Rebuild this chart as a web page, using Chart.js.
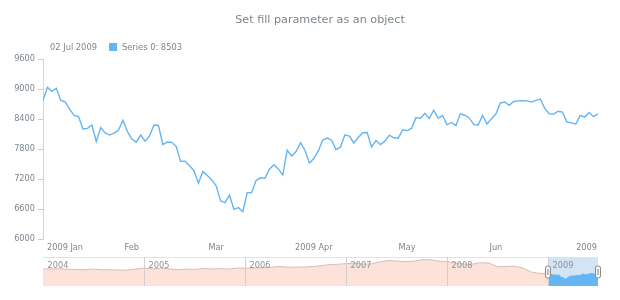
<!DOCTYPE html>
<html>
<head>
<meta charset="utf-8">
<script src="https://cdn.jsdelivr.net/npm/chart.js@4"></script>
<style>
  body { margin: 0; background: #fff; font-family: "DejaVu Sans", sans-serif; color: #7c868e; }
  #wrap { position: relative; width: 620px; height: 300px; overflow: hidden; }
  #title { position: absolute; left: 0; top: 13px; width: 640px; text-align: center; font-size: 11.2px; line-height: 14px; }
  .leg { position: absolute; top: 42px; font-size: 8.3px; line-height: 10px; white-space: nowrap; }
  #legBox { position: absolute; left: 109px; top: 43px; width: 8px; height: 8px; background: #64b5f6; }
  #main { position: absolute; left: 0; top: 0; }
  #nav { position: absolute; left: 0; top: 257px; }
</style>
</head>
<body>
<div id="wrap">
  <canvas id="main" width="620" height="256"></canvas>
  <canvas id="nav" width="620" height="30"></canvas>
  <div id="title">Set fill parameter as an object</div>
  <div class="leg" style="left:50px">02 Jul 2009</div>
  <div id="legBox"></div>
  <div class="leg" style="left:122px">Series 0: 8503</div>
</div>
<script>
// daily closes shown in the main plot, one per trading day (02 Jan .. 02 Jul 2009)
const closes = [
  8776, 9035, 8953, 9015, 8770, 8742, 8599, 8474, 8449, 8200,
  8212, 8281, 7949, 8228, 8123, 8078, 8116, 8175, 8375, 8149,
  8001, 7937, 8078, 7957, 8063, 8281, 8271, 7889, 7940, 7933,
  7850, 7553, 7556, 7466, 7366, 7115, 7351, 7271, 7182, 7063,
  6763, 6726, 6876, 6594, 6627, 6547, 6926, 6930, 7170, 7224,
  7217, 7396, 7487, 7401, 7278, 7776, 7660, 7750, 7925, 7776,
  7522, 7609, 7762, 7978, 8018, 7976, 7790, 7837, 8083, 8058,
  7920, 8030, 8125, 8131, 7842, 7970, 7887, 7957, 8076, 8025,
  8017, 8186, 8168, 8212, 8427, 8411, 8512, 8410, 8575, 8419,
  8469, 8285, 8331, 8269, 8504, 8475, 8422, 8292, 8277, 8473,
  8300, 8404, 8500, 8721, 8741, 8675, 8750, 8763, 8764, 8763,
  8739, 8771, 8799, 8612, 8505, 8497, 8556, 8540, 8339, 8323,
  8300, 8472, 8438, 8529, 8447, 8503
];
// x axis labels (index of first trading day of each month)
const monthTickIndex = [0, 20, 39, 61, 82, 102, 124];
const monthTickLabels = ["2009 Jan", "Feb", "Mar", "2009 Apr", "May", "Jun", "2009"];
const yMin = 6000, yMax = 9600, yStep = 600;

// scroller: monthly closes Dec 2003 .. Dec 2008
const navYears = [2004, 2005, 2006, 2007, 2008, 2009];
const navMonthly = [
  10454,
  10488, 10584, 10358, 10226, 10188, 10435, 10140, 10174, 10080, 10027, 10428, 10783,
  10490, 10766, 10504, 10193, 10467, 10275, 10641, 10482, 10569, 10440, 10806, 10718,
  10865, 10993, 11109, 11367, 11168, 11150, 11186, 11381, 11679, 12081, 12222, 12463,
  12622, 12269, 12354, 13063, 13628, 13409, 13212, 13358, 13896, 13930, 13372, 13265,
  12650, 12266, 12263, 12820, 12638, 11350, 11378, 11544, 10851, 9325, 8829, 8776
];

const lineColor = "#64b5f6";
const textColor = "#7c868e";
const font = "DejaVu Sans";
const fontSize = 8.2;

// ---------- main chart ----------
const xLabelsPlugin = {
  id: "xLabels",
  afterDraw(chart) {
    const ctx = chart.ctx, xs = chart.scales.x, area = chart.chartArea;
    ctx.save();
    ctx.font = fontSize + "px '" + font + "'";
    ctx.fillStyle = textColor;
    ctx.textBaseline = "middle";
    monthTickIndex.forEach((idx, k) => {
      const txt = monthTickLabels[k];
      const w = ctx.measureText(txt).width;
      let left = xs.getPixelForValue(idx) - w / 2;
      if (left < area.left + 4) left = area.left + 4;
      if (left + w > area.right - 1) left = area.right - 1 - w;
      ctx.fillText(txt, left, area.bottom + 8.5);
    });
    ctx.restore();
  }
};

new Chart(document.getElementById("main"), {
  type: "line",
  data: {
    datasets: [{
      data: closes.map((v, i) => ({ x: i, y: v })),
      borderColor: lineColor,
      borderWidth: 1.4,
      pointRadius: 0,
      tension: 0,
      fill: false
    }]
  },
  options: {
    responsive: false,
    animation: false,
    layout: { padding: { top: 59, right: 22, bottom: 17, left: 0 } },
    plugins: { legend: { display: false }, tooltip: { enabled: false } },
    scales: {
      x: { type: "linear", min: 0, max: closes.length - 1, display: false },
      y: {
        min: yMin, max: yMax,
        afterFit: (s) => { s.width = 43; },
        ticks: {
          stepSize: yStep, color: textColor, padding: 3,
          font: { family: font, size: fontSize },
          callback: (v) => String(v)
        },
        grid: { drawOnChartArea: false, tickLength: 5, color: "#c8c8c8" },
        border: { display: true, color: "#d6d6d6" }
      }
    }
  },
  plugins: [xLabelsPlugin]
});

// ---------- scroller ----------
const navSalmon = navMonthly.map((v, k) => ({ x: 2004 + k / 12, y: v }));
const nav2009 = closes.map((v, i) => ({ x: 2009 + i / 252, y: v }));
const navMax = 2009 + (closes.length - 1) / 252;

const navPlugin = {
  id: "navDecor",
  beforeDatasetsDraw(chart) {
    const ctx = chart.ctx, xs = chart.scales.x, a = chart.chartArea;
    const x0 = xs.getPixelForValue(2009), x1 = xs.getPixelForValue(navMax);
    ctx.save();
    ctx.fillStyle = "#d3e4f7";
    ctx.fillRect(x0, 0, x1 - x0, a.bottom);
    ctx.restore();
  },
  afterDatasetsDraw(chart) {
    const ctx = chart.ctx, xs = chart.scales.x, a = chart.chartArea;
    ctx.save();
    // top border
    ctx.strokeStyle = "#e2e2e2";
    ctx.lineWidth = 1;
    ctx.beginPath();
    ctx.moveTo(a.left, 0.5); ctx.lineTo(a.right, 0.5);
    ctx.stroke();
    // year separators and labels
    ctx.strokeStyle = "#cfcfcf";
    ctx.font = fontSize + "px '" + font + "'";
    ctx.fillStyle = "#8c9296";
    ctx.textBaseline = "middle";
    navYears.forEach((yr) => {
      const px = Math.round(xs.getPixelForValue(yr)) + 0.5;
      if (yr > 2004) {
        ctx.beginPath(); ctx.moveTo(px, 0); ctx.lineTo(px, a.bottom); ctx.stroke();
      }
      ctx.fillText(String(yr), px + 4, 8.5);
    });
    // handles
    [2009, navMax].forEach((v) => {
      const px = xs.getPixelForValue(v);
      ctx.fillStyle = "#f4f4f4";
      ctx.strokeStyle = "#8a8a8a";
      ctx.beginPath();
      ctx.roundRect(px - 2.5, 9, 5, 12, 2);
      ctx.fill(); ctx.stroke();
      ctx.beginPath(); ctx.moveTo(px, 12); ctx.lineTo(px, 18); ctx.stroke();
    });
    ctx.restore();
  }
};

new Chart(document.getElementById("nav"), {
  type: "line",
  data: {
    datasets: [
      {
        data: navSalmon,
        borderColor: "#d8bcb5",
        backgroundColor: "#fde2da",
        borderWidth: 1,
        pointRadius: 0,
        tension: 0,
        fill: "start"
      },
      {
        data: nav2009,
        borderColor: lineColor,
        backgroundColor: lineColor,
        borderWidth: 1,
        pointRadius: 0,
        tension: 0,
        fill: "start"
      }
    ]
  },
  options: {
    responsive: false,
    animation: false,
    layout: { padding: { top: 0, right: 22, bottom: 1, left: 43 } },
    plugins: { legend: { display: false }, tooltip: { enabled: false } },
    scales: {
      x: { type: "linear", min: 2004, max: navMax, display: false },
      y: { min: 4130, max: 14930, display: false }
    }
  },
  plugins: [navPlugin]
});
</script>
</body>
</html>
